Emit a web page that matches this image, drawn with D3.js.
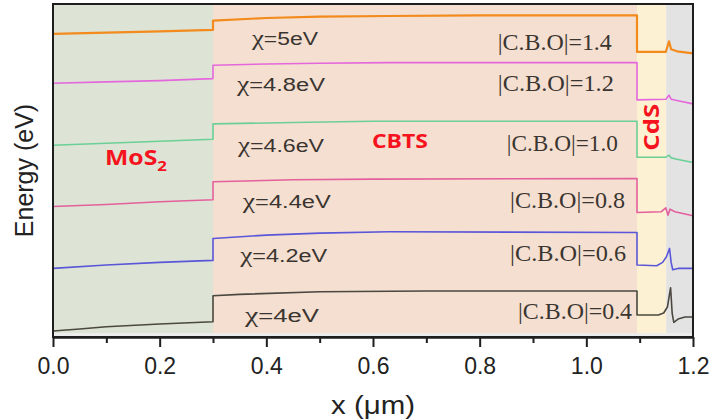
<!DOCTYPE html>
<html>
<head>
<meta charset="utf-8">
<script src="https://cdn.jsdelivr.net/npm/d3@7"></script>
<style>
  html, body { margin: 0; padding: 0; background: #fff; }
  svg { display: block; }
</style>
</head>
<body>
<svg id="chart" width="713" height="420"></svg>
<script>
// Conduction-band profiles of the MoS2 / CBTS / CdS stack for several CBTS electron affinities.
// Each profile is an [x (µm), energy (eV, offset for display)] list.
const chiValues = [5, 4.8, 4.6, 4.4, 4.2, 4.0];
const cboValues = [1.4, 1.2, 1.0, 0.8, 0.6, 0.4];
const lineColors = ["#f28a1c", "#e468dc", "#6ccf96", "#e4609c", "#5a56d8", "#4a4840"];

const bandChi50 = [[0,4.55],[0.1,4.57],[0.2,4.59],[0.3,4.61],[0.3,4.75],[0.4,4.79],[0.5,4.81],[0.63,4.82],[0.8,4.83],[1.095,4.83],[1.095,4.28],[1.149,4.28],[1.155,4.44],[1.159,4.32],[1.17,4.29],[1.2,4.26]];
const bandChi48 = [[0,3.81],[0.1,3.83],[0.2,3.85],[0.3,3.88],[0.3,4.08],[0.4,4.10],[0.5,4.11],[0.63,4.12],[1.095,4.12],[1.095,3.56],[1.149,3.57],[1.155,3.63],[1.159,3.57],[1.17,3.55],[1.2,3.50]];
const bandChi46 = [[0,2.88],[0.1,2.91],[0.2,2.94],[0.3,2.97],[0.3,3.20],[0.45,3.22],[0.6,3.24],[1.095,3.24],[1.095,2.70],[1.149,2.70],[1.155,2.73],[1.159,2.69],[1.17,2.67],[1.2,2.62]];
const bandChi44 = [[0,1.96],[0.1,1.99],[0.2,2.03],[0.3,2.06],[0.3,2.33],[0.45,2.36],[0.6,2.37],[1.095,2.38],[1.095,1.87],[1.14,1.88],[1.149,1.94],[1.153,1.83],[1.157,1.92],[1.166,1.88],[1.2,1.82]];
const bandChi42 = [[0,1.03],[0.1,1.08],[0.2,1.12],[0.3,1.15],[0.3,1.48],[0.4,1.53],[0.5,1.56],[0.63,1.58],[1.095,1.57],[1.095,1.08],[1.132,1.07],[1.143,1.12],[1.150,1.20],[1.156,1.33],[1.159,1.12],[1.162,1.01],[1.172,1.03],[1.2,1.03]];
const bandChi40 = [[0,0.09],[0.05,0.12],[0.1,0.155],[0.2,0.195],[0.3,0.23],[0.3,0.62],[0.35,0.64],[0.5,0.68],[0.7,0.69],[1.095,0.69],[1.095,0.33],[1.135,0.33],[1.145,0.36],[1.152,0.45],[1.158,0.74],[1.161,0.35],[1.164,0.22],[1.172,0.27],[1.185,0.30],[1.2,0.30]];
const bands = [bandChi50, bandChi48, bandChi46, bandChi44, bandChi42, bandChi40];

// Layer extents along x (µm)
const layerNames = ["MoS2", "CBTS", "CdS", "contact"];
const layerStart = [0, 0.3, 1.095, 1.15];
const layerEnd   = [0.3, 1.095, 1.15, 1.2];
const layerFills = ["#dde4d5", "#f5dfd1", "#fdf1d3", "#e3e3e3"];

const xTicks = [0, 0.2, 0.4, 0.6, 0.8, 1.0, 1.2];
const xMinorTicks = [0.1, 0.3, 0.5, 0.7, 0.9, 1.1];

const svg = d3.select("#chart");
const plot = { left: 53, right: 693, top: 4, bottom: 337 };

const x = d3.scaleLinear().domain([0, 1.2]).range([plot.left, plot.right]);
const y = d3.scaleLinear().domain([0, 5]).range([plot.bottom, plot.top]);

// Layer backgrounds
svg.append("rect")
  .attr("x", plot.left).attr("y", plot.top)
  .attr("width", plot.right - plot.left).attr("height", plot.bottom - plot.top)
  .attr("fill", "#ececec");
svg.append("g").selectAll("rect")
  .data(layerNames)
  .join("rect")
  .attr("x", (d, i) => x(layerStart[i]))
  .attr("y", plot.top)
  .attr("width", (d, i) => x(layerEnd[i]) - x(layerStart[i]))
  .attr("height", plot.bottom - plot.top - 4)
  .attr("fill", (d, i) => layerFills[i]);

// Band profiles
const line = d3.line().x(d => x(d[0])).y(d => y(d[1]));
svg.append("g").selectAll("path")
  .data(bands)
  .join("path")
  .attr("d", line)
  .attr("fill", "none")
  .attr("stroke", (d, i) => lineColors[i])
  .attr("stroke-width", (d, i) => i === 0 ? 2.2 : 1.6)
  .attr("stroke-linejoin", "round");

// Affinity labels (χ in serif, rest in sans)
const textColor = "#3a3530";
const chiPos = [[0.373, 4.38], [0.345, 3.69], [0.347, 2.78], [0.356, 1.93], [0.351, 1.13], [0.36, 0.22]];
const chiWidths = [66, 88, 86, 88, 87, 74];
chiValues.forEach((v, i) => {
  const t = svg.append("text")
    .attr("x", x(chiPos[i][0])).attr("y", y(chiPos[i][1]))
    .attr("fill", textColor)
    .attr("textLength", chiWidths[i])
    .attr("lengthAdjust", "spacingAndGlyphs");
  t.append("tspan").attr("font-family", "'Liberation Serif', 'Times New Roman', serif")
    .attr("font-size", 21).text("χ");
  t.append("tspan").attr("font-family", "'Liberation Sans', Arial, sans-serif")
    .attr("font-size", 18).text("=" + v + "eV");
});

// Conduction band offset labels
const cboPos = [[0.834, 4.31], [0.834, 3.70], [0.851, 2.79], [0.857, 1.93], [0.857, 1.14], [0.872, 0.27]];
const cboWidths = [114, 116, 111, 115, 116, 114];
svg.append("g").selectAll("text")
  .data(cboValues)
  .join("text")
  .attr("x", (d, i) => x(cboPos[i][0]))
  .attr("y", (d, i) => y(cboPos[i][1]))
  .attr("font-family", "'Liberation Serif', 'Times New Roman', serif")
  .attr("font-size", 23)
  .attr("fill", textColor)
  .attr("textLength", (d, i) => cboWidths[i])
  .attr("lengthAdjust", "spacingAndGlyphs")
  .text(d => "|C.B.O|=" + d.toFixed(1));

// Layer names
const red = "#f5141e";
const mos = svg.append("text")
  .attr("x", x(0.0975)).attr("y", y(2.58))
  .attr("font-family", "'Open Sans', 'Liberation Sans', Arial, sans-serif")
  .attr("font-weight", "bold").attr("font-size", 22).attr("fill", red)
  .attr("textLength", 62).attr("lengthAdjust", "spacingAndGlyphs");
mos.append("tspan").text("MoS");
mos.append("tspan").attr("font-size", 15).attr("dy", 6).text("2");

svg.append("text")
  .attr("x", x(0.598)).attr("y", y(2.84))
  .attr("font-family", "'Open Sans', 'Liberation Sans', Arial, sans-serif")
  .attr("font-weight", "bold").attr("font-size", 20).attr("fill", red)
  .attr("textLength", 56).attr("lengthAdjust", "spacingAndGlyphs")
  .text("CBTS");

svg.append("text")
  .attr("transform", `translate(${x(1.1225) + 7},${y(3.15)}) rotate(-90)`)
  .attr("text-anchor", "middle")
  .attr("font-family", "'Open Sans', 'Liberation Sans', Arial, sans-serif")
  .attr("font-weight", "bold").attr("font-size", 21).attr("fill", red)
  .attr("textLength", 47).attr("lengthAdjust", "spacingAndGlyphs")
  .text("CdS");

// Axes
const axisG = svg.append("g").attr("transform", `translate(0,${plot.bottom})`);
axisG.call(d3.axisBottom(x).tickValues(xTicks).tickFormat(d3.format(".1f"))
  .tickSize(10).tickSizeOuter(0).tickPadding(11));
const minorG = svg.append("g").attr("transform", `translate(0,${plot.bottom})`);
minorG.call(d3.axisBottom(x).tickValues(xMinorTicks).tickFormat("").tickSize(6).tickSizeOuter(0));
[axisG, minorG].forEach(g => {
  g.selectAll("path, line").attr("stroke", "#1e1e1e").attr("stroke-width", 2);
});
axisG.selectAll("text")
  .attr("font-family", "'Liberation Sans', Arial, sans-serif")
  .attr("font-size", 23).attr("fill", "#222");

// Frame
svg.append("rect")
  .attr("x", plot.left).attr("y", plot.top)
  .attr("width", plot.right - plot.left).attr("height", plot.bottom - plot.top)
  .attr("fill", "none").attr("stroke", "#1e1e1e").attr("stroke-width", 2);

// Axis titles
svg.append("text")
  .attr("x", (plot.left + plot.right) / 2).attr("y", 414)
  .attr("text-anchor", "middle")
  .attr("font-family", "'Liberation Sans', Arial, sans-serif")
  .attr("font-size", 25).attr("fill", "#222")
  .attr("textLength", 84).attr("lengthAdjust", "spacingAndGlyphs")
  .text("x (μm)");

svg.append("text")
  .attr("transform", `translate(33,${(plot.top + plot.bottom) / 2}) rotate(-90)`)
  .attr("text-anchor", "middle")
  .attr("font-family", "'Liberation Sans', Arial, sans-serif")
  .attr("font-size", 25).attr("fill", "#222")
  .text("Energy (eV)");
</script>
</body>
</html>
